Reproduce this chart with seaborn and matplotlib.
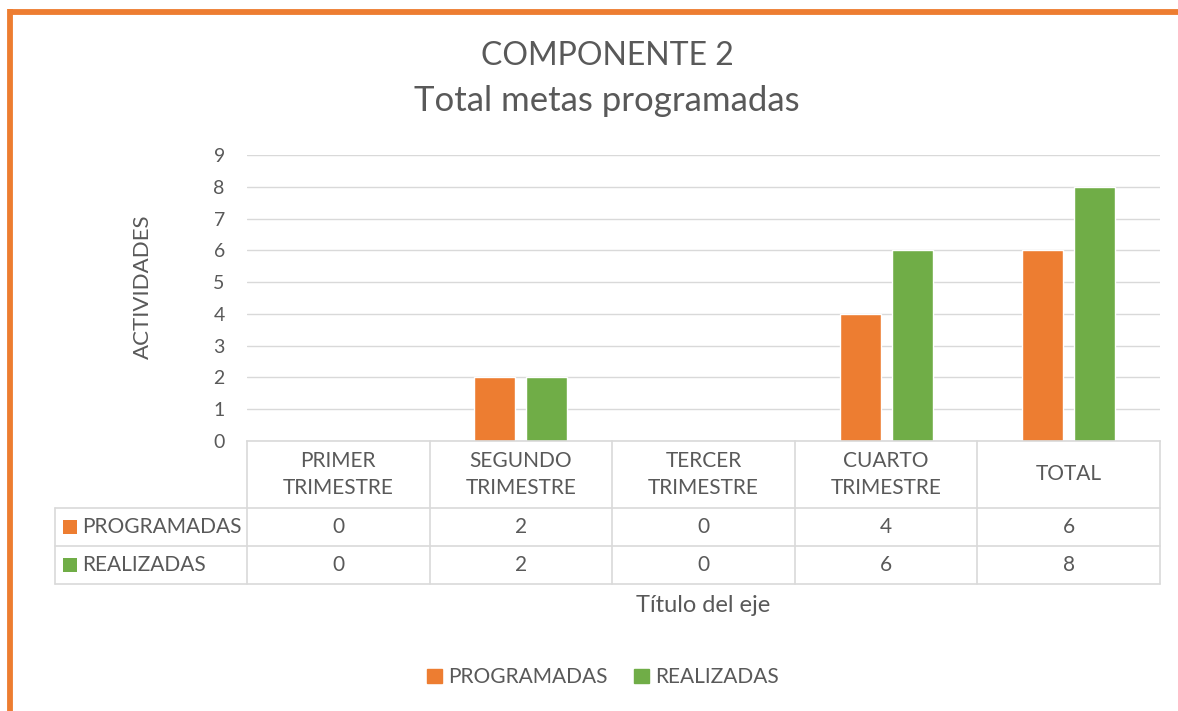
import numpy as np
import pandas as pd
import matplotlib
matplotlib.use("Agg")
import matplotlib.pyplot as plt
from matplotlib.lines import Line2D
from matplotlib.patches import Rectangle
from matplotlib.transforms import blended_transform_factory
import seaborn as sns

# Data
periodos = ["PRIMER\nTRIMESTRE", "SEGUNDO\nTRIMESTRE", "TERCER\nTRIMESTRE", "CUARTO\nTRIMESTRE", "TOTAL"]
series = ["PROGRAMADAS", "REALIZADAS"]
programadas = [0, 2, 0, 4, 6]
realizadas = [0, 2, 0, 6, 8]
y_ticks = list(range(0, 10))

ORANGE = "#ED7D31"
GREEN = "#70AD47"
TEXT = "#595959"
GRID = "#D9D9D9"

sns.set_theme(style="white")
plt.rcParams["font.family"] = ["Lato", "DejaVu Sans"]

W, H = 1178, 711
fig = plt.figure(figsize=(W / 100, H / 100), dpi=100)
fig.patch.set_facecolor("white")

def fx(px):
    return px / W

def fy(py):
    return 1 - py / H

ax = fig.add_axes([fx(247), fy(441), fx(1160) - fx(247), fy(155) - fy(441)])

df = pd.DataFrame({
    "periodo": periodos * 2,
    "serie": [series[0]] * len(periodos) + [series[1]] * len(periodos),
    "valor": programadas + realizadas,
})
sns.barplot(data=df, x="periodo", y="valor", hue="serie", order=periodos,
            hue_order=series, palette=[ORANGE, GREEN], width=0.57, gap=0.21,
            saturation=1, legend=False, ax=ax)

ax.set_xlim(-0.5, len(periodos) - 0.5)
ax.set_ylim(0, 9)
ax.set_yticks(y_ticks)
ax.set_yticklabels([str(t) for t in y_ticks], color=TEXT, fontsize=14)
ax.tick_params(axis="y", length=0, pad=16)
ax.set_xticks([])
ax.set_xlabel("")
ax.set_ylabel("ACTIVIDADES", color=TEXT, fontsize=16)
ax.yaxis.set_label_coords(-0.103, 0.538)
ax.yaxis.grid(True, color=GRID, linewidth=1)
ax.set_axisbelow(True)
for side in ["top", "right", "left"]:
    ax.spines[side].set_visible(False)
ax.spines["bottom"].set_color(GRID)
ax.spines["bottom"].set_linewidth(1.2)

# Data table under the axis
tr = blended_transform_factory(ax.transData, fig.transFigure)
n = len(periodos)
x_left_lab = -0.5 - (247 - 55) / ((1160 - 247) / n)
edges = np.arange(n + 1) - 0.5
y_top, y_r1, y_r2, y_bot = fy(441), fy(508), fy(546), fy(584)
lw = 1.2
for e in edges:
    fig.add_artist(Line2D([e, e], [y_top, y_bot], transform=tr, color=GRID, lw=lw))
for yy in (y_r1, y_r2, y_bot):
    fig.add_artist(Line2D([x_left_lab, edges[-1]], [yy, yy], transform=tr, color=GRID, lw=lw))
fig.add_artist(Line2D([x_left_lab, x_left_lab], [y_r1, y_bot], transform=tr, color=GRID, lw=lw))

for i, p in enumerate(periodos):
    fig.text(i, (y_top + y_r1) / 2, p, transform=tr, ha="center", va="center",
             color=TEXT, fontsize=15, linespacing=1.42)
rows = [(series[0], programadas, ORANGE), (series[1], realizadas, GREEN)]
row_centers = [(y_r1 + y_r2) / 2, (y_r2 + y_bot) / 2]
for (name, vals, col), yc in zip(rows, row_centers):
    sq = 14
    fig.add_artist(Rectangle((fx(63), yc - sq / 2 / H), sq / W, sq / H,
                             transform=fig.transFigure, color=col, lw=0))
    fig.text(fx(82), yc, name, ha="left", va="center", color=TEXT, fontsize=15)
    for i, v in enumerate(vals):
        fig.text(i, yc, str(v), transform=tr, ha="center", va="center",
                 color=TEXT, fontsize=15)

# Axis title below the table
fig.text(fx(703), fy(606), "Título del eje", ha="center", va="center",
         color=TEXT, fontsize=17)

# Title
fig.text(fx(607), fy(56), "COMPONENTE 2", ha="center", va="center", color=TEXT, fontsize=23)
fig.text(fx(607), fy(101), "Total metas programadas", ha="center", va="center", color=TEXT, fontsize=25)

# Legend
handles = [Rectangle((0, 0), 1, 1, color=ORANGE), Rectangle((0, 0), 1, 1, color=GREEN)]
fig.legend(handles, series, loc="center", bbox_to_anchor=(fx(603), fy(677)), ncol=2,
           frameon=False, fontsize=15, labelcolor=TEXT, handlelength=0.68,
           handleheight=0.68, handletextpad=0.3, columnspacing=1.3)

# Orange frame on top and left edges
fig.add_artist(Line2D([fx(9.5), 1], [fy(11.5), fy(11.5)], transform=fig.transFigure,
                      color=ORANGE, lw=4.2, solid_capstyle="butt"))
fig.add_artist(Line2D([fx(9.5), fx(9.5)], [fy(9), 0], transform=fig.transFigure,
                      color=ORANGE, lw=4.2, solid_capstyle="butt"))

fig.savefig("out.png", dpi=100)
